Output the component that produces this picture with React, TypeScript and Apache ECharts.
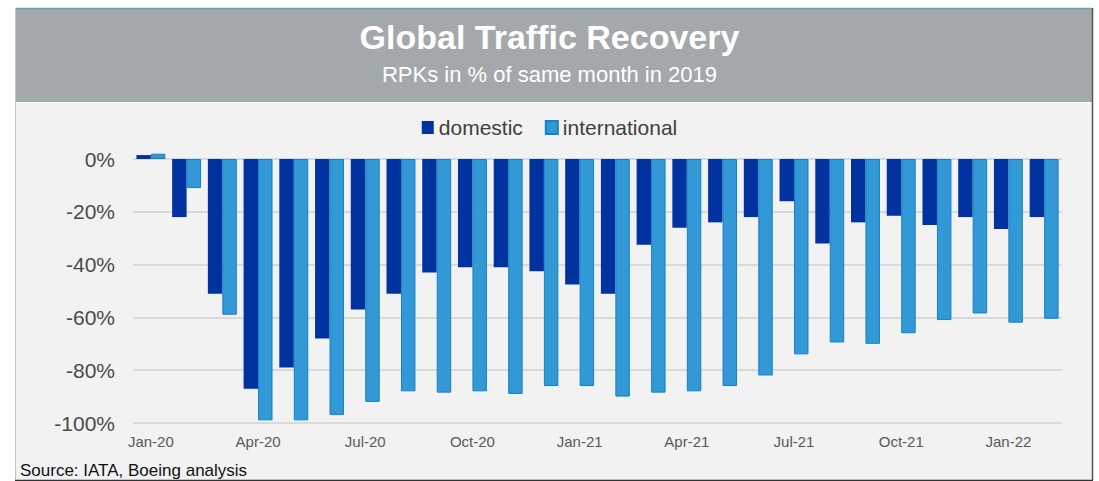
import React, { useEffect, useRef } from "react";
import * as echarts from "echarts";

const categories = [
  "Jan-20", "Feb-20", "Mar-20", "Apr-20", "May-20", "Jun-20", "Jul-20", "Aug-20", "Sep-20", "Oct-20", "Nov-20", "Dec-20",
  "Jan-21", "Feb-21", "Mar-21", "Apr-21", "May-21", "Jun-21", "Jul-21", "Aug-21", "Sep-21", "Oct-21", "Nov-21", "Dec-21",
  "Jan-22", "Feb-22",
];

const domestic = [
  1.5, -22, -51, -87, -79, -68, -57, -51, -43, -41, -41, -42.5,
  -47.5, -51, -32.5, -26, -24, -22, -16, -32, -24, -21.5, -25, -22,
  -26.5, -22,
];

const international = [
  2, -11, -59, -99, -99, -97, -92, -88, -88.5, -88, -89, -86,
  -86, -90, -88.5, -88, -86, -82, -74, -69.5, -70, -66, -61, -58.5,
  -62, -60.5,
];

const titleText = "Global Traffic Recovery";
const subtitleText = "RPKs in % of same month in 2019";
const sourceText = "Source: IATA, Boeing analysis";

const FONT = "'Liberation Sans', Arial, Helvetica, sans-serif";

export default function App() {
  const ref = useRef<HTMLDivElement>(null);
  useEffect(() => {
    if (!ref.current) return;
    const chart = echarts.init(ref.current, null, { renderer: "svg" });
    chart.setOption({
      animation: false,
      backgroundColor: "#ffffff",
      graphic: [
        { type: "rect", z: -10, shape: { x: 16, y: 103, width: 1076, height: 377 }, style: { fill: "#f2f2f2" }, silent: true },
        { type: "rect", z: -10, shape: { x: 16, y: 8, width: 1076, height: 94 }, style: { fill: "#a3a9ab" }, silent: true },
        { type: "line", z: -9, shape: { x1: 16, y1: 8.5, x2: 1092, y2: 8.5 }, style: { stroke: "#5aaea6", lineWidth: 1.5 }, silent: true },
        { type: "line", z: -9, shape: { x1: 15.5, y1: 8, x2: 15.5, y2: 480 }, style: { stroke: "#c4c4c4", lineWidth: 1 }, silent: true },
        { type: "line", z: -9, shape: { x1: 1092.5, y1: 8, x2: 1092.5, y2: 480 }, style: { stroke: "#555555", lineWidth: 1.5 }, silent: true },
        {
          type: "text", left: "center", top: 20, z: 5,
          style: { text: titleText, fill: "#ffffff", font: `bold 34px ${FONT}` },
        },
        {
          type: "text", left: "center", top: 63, z: 5,
          style: { text: subtitleText, fill: "#ffffff", font: `22px ${FONT}` },
        },
        {
          type: "text", left: 20, top: 462, z: 5,
          style: { text: sourceText, fill: "#111111", font: `17px ${FONT}` },
        },
        { type: "line", z: 10, shape: { x1: 15, y1: 480.5, x2: 1093, y2: 480.5 }, style: { stroke: "#333333", lineWidth: 1.5 }, silent: true },
      ],
      legend: {
        top: 112,
        left: "center",
        icon: "rect",
        itemWidth: 12,
        itemHeight: 13,
        itemGap: 22,
        textStyle: { fontSize: 21, color: "#404040", fontFamily: FONT },
        data: ["domestic", "international"],
      },
      grid: { left: 133, right: 37, top: 159, bottom: 58, containLabel: false },
      xAxis: {
        type: "category",
        data: categories,
        axisLine: { show: false },
        axisTick: { show: false },
        axisLabel: { interval: 2, fontSize: 15, color: "#595959", fontFamily: FONT, margin: 11 },
      },
      yAxis: {
        type: "value",
        min: -100,
        max: 0,
        interval: 20,
        axisLine: { show: false },
        axisTick: { show: false },
        axisLabel: { formatter: (v: number) => `${v}%`, fontSize: 21, color: "#4a4a4a", fontFamily: FONT, margin: 18 },
        splitLine: { lineStyle: { color: "#d9d9d9", width: 2 } },
      },
      series: [
        {
          name: "domestic",
          type: "bar",
          data: domestic,
          clip: false,
          barGap: "0%",
          barCategoryGap: "19%",
          itemStyle: { color: "#0033a0" },
        },
        {
          name: "international",
          type: "bar",
          data: international,
          clip: false,
          barGap: "0%",
          barCategoryGap: "19%",
          itemStyle: { color: "#3399d6", borderColor: "#1581c6", borderWidth: 1 },
        },
      ],
    });
    return () => chart.dispose();
  }, []);
  return (
    <div
      ref={ref}
      style={{ position: "absolute", left: 0, top: 0, width: 1099, height: 481 }}
    />
  );
}
